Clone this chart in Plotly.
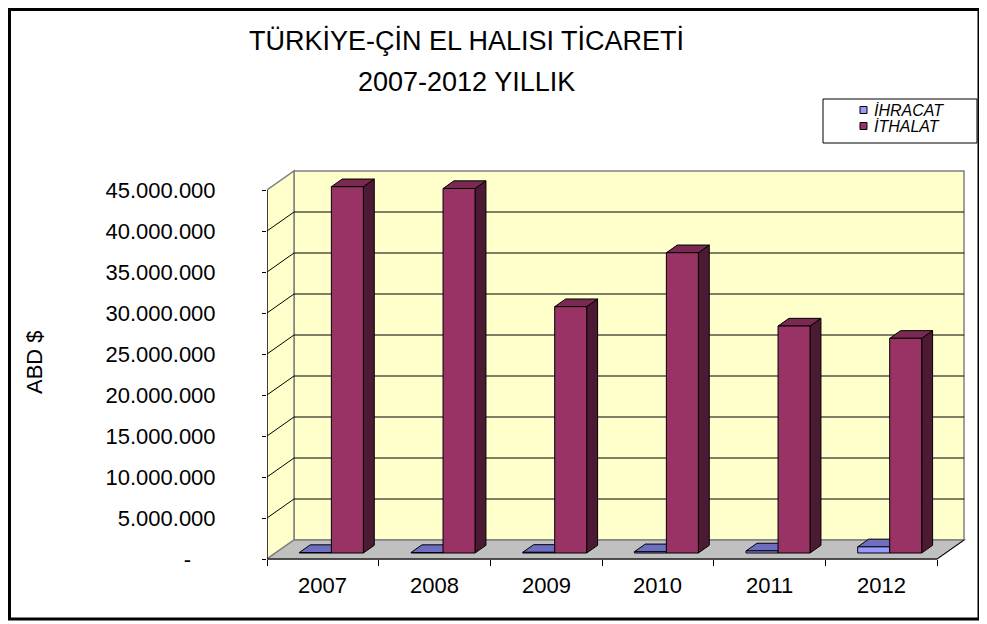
import plotly.graph_objects as go

# ---------------- data ----------------
years = ["2007", "2008", "2009", "2010", "2011", "2012"]
ihracat = [60000, 60000, 80000, 150000, 250000, 750000]
ithalat = [44670000, 44450000, 30040000, 36620000, 27680000, 26180000]
y_tick_values = [0, 5000000, 10000000, 15000000, 20000000, 25000000,
                 30000000, 35000000, 40000000, 45000000]
series_names = ["İHRACAT", "İTHALAT"]
title_lines = ["TÜRKİYE-ÇİN EL HALISI TİCARETİ", "2007-2012 YILLIK"]
y_title = "ABD $"

# ---------------- styling / geometry ----------------
FONT = "Arial, Liberation Sans, sans-serif"
PAGE_OFF = 8                      # default body margin of the html page
FIG_W, FIG_H = 987 - PAGE_OFF, 624 - PAGE_OFF
L, R, T, B = 267 - PAGE_OFF, 19, 162 - PAGE_OFF, 62
PW, PH = FIG_W - L - R, FIG_H - T - B
CAT_PX = 670 / 6.0           # px per category
VAL_PX = 41 / 5e6            # px per value unit
ZERO_PX = 559                # screen row of value 0 (front)
BOTTOM_PX = FIG_H - B + PAGE_OFF   # screen row of plot bottom
XMIN = -0.5
XMAX = XMIN + PW / CAT_PX
YMIN = -(BOTTOM_PX - ZERO_PX) / VAL_PX
YMAX = (ZERO_PX - (T + PAGE_OFF)) / VAL_PX

DX = 27 / CAT_PX             # depth offset (x, data units)
DY = 19 / VAL_PX             # depth offset (y, data units)
F1, F2 = 0.316, 0.72         # bar depth (front/back fraction)
BW = 0.2865                  # bar width
OFFS = [-0.1433, 0.1433]

WALL = "#FFFFCC"
FLOOR = "#C0C0C0"
EDGE = "#808080"
front_cols = ["#9999FF", "#993366"]
top_cols = ["#6E6EC0", "#7A2952"]
side_cols = ["#4C4C80", "#4C1A33"]

n = len(years)
xfront_end = XMIN + n
top_val = y_tick_values[-1]


def px_x(p):  # screen x -> paper
    return (p - PAGE_OFF - L) / PW


def px_y(p):  # screen y -> paper
    return (BOTTOM_PX - p) / PH


def path(pts):
    return "M " + " L ".join(f"{x},{y}" for x, y in pts) + " Z"


shapes = []
# back wall
shapes.append(dict(type="path", xref="x", yref="y", layer="below",
                   path=path([(XMIN + DX, DY), (xfront_end + DX, DY),
                              (xfront_end + DX, top_val + DY), (XMIN + DX, top_val + DY)]),
                   fillcolor=WALL, line=dict(color=EDGE, width=1.5)))
# side wall
shapes.append(dict(type="path", xref="x", yref="y", layer="below",
                   path=path([(XMIN, 0), (XMIN + DX, DY), (XMIN + DX, top_val + DY), (XMIN, top_val)]),
                   fillcolor=WALL, line=dict(color=EDGE, width=1.5)))
# floor
shapes.append(dict(type="path", xref="x", yref="y", layer="below",
                   path=path([(XMIN, 0), (xfront_end, 0), (xfront_end + DX, DY), (XMIN + DX, DY)]),
                   fillcolor=FLOOR, line=dict(color=EDGE, width=1.5)))
# gridlines
for v in y_tick_values[1:-1]:
    shapes.append(dict(type="line", xref="x", yref="y", layer="below",
                       x0=XMIN + DX, x1=xfront_end + DX, y0=v + DY, y1=v + DY,
                       line=dict(color="black", width=1)))
    shapes.append(dict(type="line", xref="x", yref="y", layer="below",
                       x0=XMIN, x1=XMIN + DX, y0=v, y1=v + DY,
                       line=dict(color="black", width=1)))
# axis lines
shapes.append(dict(type="line", xref="x", yref="y", layer="below",
                   x0=XMIN, x1=xfront_end, y0=0, y1=0, line=dict(color="black", width=1.2)))
shapes.append(dict(type="line", xref="x", yref="y", layer="below",
                   x0=xfront_end, x1=xfront_end + DX, y0=0, y1=DY, line=dict(color="black", width=1)))
shapes.append(dict(type="line", xref="x", yref="y", layer="below",
                   x0=XMIN, x1=XMIN, y0=0, y1=top_val, line=dict(color="black", width=1.2)))

# bar 3D faces (top and side), derived from data
ddx, ddy = (F2 - F1) * DX, (F2 - F1) * DY
base = F1 * DY
for s, vals in enumerate([ihracat, ithalat]):
    for i, v in enumerate(vals):
        xc = i + OFFS[s] + F1 * DX
        xl, xr = xc - BW / 2, xc + BW / 2
        yt = base + v
        shapes.append(dict(type="path", xref="x", yref="y", layer="below",
                           path=path([(xr, base), (xr + ddx, base + ddy), (xr + ddx, yt + ddy), (xr, yt)]),
                           fillcolor=side_cols[s], line=dict(color="black", width=1)))
        shapes.append(dict(type="path", xref="x", yref="y", layer="below",
                           path=path([(xl, yt), (xr, yt), (xr + ddx, yt + ddy), (xl + ddx, yt + ddy)]),
                           fillcolor=top_cols[s], line=dict(color="black", width=1)))

# outer chart border
shapes.append(dict(type="rect", xref="paper", yref="paper", layer="above",
                   x0=px_x(9.5), x1=px_x(979), y0=px_y(619), y1=px_y(9.5),
                   line=dict(color="black", width=3), fillcolor="rgba(0,0,0,0)"))
# legend box + symbols
shapes.append(dict(type="rect", xref="paper", yref="paper", layer="above",
                   x0=px_x(823), x1=px_x(977), y0=px_y(143), y1=px_y(99),
                   line=dict(color="black", width=1), fillcolor="white"))
legend_rows = [110, 126]
for s in range(2):
    cy = legend_rows[s]
    shapes.append(dict(type="rect", xref="paper", yref="paper", layer="above",
                       x0=px_x(860), x1=px_x(867), y0=px_y(cy + 3.5), y1=px_y(cy - 3.5),
                       line=dict(color="black", width=1), fillcolor=front_cols[s]))

fig = go.Figure()
for s, vals in enumerate([ihracat, ithalat]):
    fig.add_trace(go.Bar(
        x=[i + OFFS[s] + F1 * DX for i in range(n)],
        y=vals, base=[base] * n, width=BW, name=series_names[s],
        marker=dict(color=front_cols[s], line=dict(color="black", width=1)),
        showlegend=False, hoverinfo="skip"))

annotations = []
# title
annotations.append(dict(xref="paper", yref="paper", x=px_x(466), y=px_y(40),
                        text=title_lines[0], showarrow=False, xanchor="center", yanchor="middle",
                        font=dict(family=FONT, size=27, color="black")))
annotations.append(dict(xref="paper", yref="paper", x=px_x(466), y=px_y(82),
                        text=title_lines[1], showarrow=False, xanchor="center", yanchor="middle",
                        font=dict(family=FONT, size=27, color="black")))
# y title
annotations.append(dict(xref="paper", yref="paper", x=px_x(34), y=px_y(362),
                        text=y_title, showarrow=False, textangle=-90,
                        xanchor="center", yanchor="middle",
                        font=dict(family=FONT, size=22, color="black")))
# category labels
for i, yr in enumerate(years):
    annotations.append(dict(xref="x", yref="paper", x=i, y=px_y(585),
                            text=yr, showarrow=False, xanchor="center", yanchor="middle",
                            font=dict(family=FONT, size=22, color="black")))
# legend texts
for s in range(2):
    annotations.append(dict(xref="paper", yref="paper", x=px_x(872), y=px_y(legend_rows[s]),
                            text=f"<i>{series_names[s]}</i>", showarrow=False,
                            xanchor="left", yanchor="middle",
                            font=dict(family=FONT, size=16, color="black")))

tick_text = ["-\u2007\u2007" if v == 0 else f"{v:,}".replace(",", ".") for v in y_tick_values]

fig.update_layout(
    width=FIG_W, height=FIG_H,
    margin=dict(l=L, r=R, t=T, b=B, autoexpand=False),
    paper_bgcolor="white", plot_bgcolor="rgba(0,0,0,0)",
    barmode="overlay", showlegend=False,
    shapes=shapes, annotations=annotations,
    font=dict(family=FONT, size=22, color="black"),
    xaxis=dict(range=[XMIN, XMAX], showgrid=False, zeroline=False, showline=False,
               tickmode="array", tickvals=[XMIN + k for k in range(n + 1)],
               ticktext=[""] * (n + 1), ticks="outside", ticklen=6, tickcolor="black",
               tickwidth=1, anchor="free", position=(BOTTOM_PX - ZERO_PX) / PH,
               fixedrange=True),
    yaxis=dict(range=[YMIN, YMAX], showgrid=False, zeroline=False, showline=False,
               tickmode="array", tickvals=y_tick_values, ticktext=tick_text,
               ticks="outside", ticklen=4, tickcolor="black", tickwidth=1,
               ticklabelstandoff=42,
               tickfont=dict(family=FONT, size=22, color="black"), fixedrange=True),
)

fig.write_html("out.html")
